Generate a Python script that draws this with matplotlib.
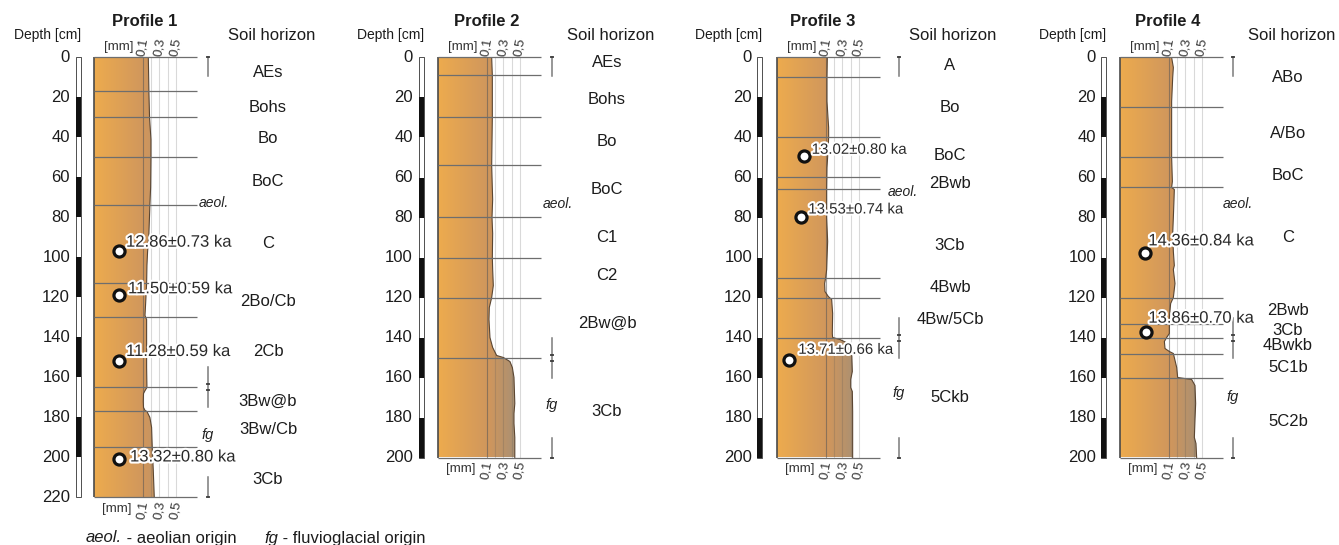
import matplotlib.pyplot as plt
import matplotlib.transforms as mtransforms
import matplotlib.patheffects as pe
from matplotlib.colors import LinearSegmentedColormap
from matplotlib.patches import Polygon, Rectangle
import numpy as np

plt.rcParams['font.family'] = ['Liberation Sans', 'DejaVu Sans']

# grain size scale [mm]
grid_mm = [0.1, 0.2, 0.3, 0.4, 0.5]
grid_lab_mm = [0.1, 0.3, 0.5]
grid_lab = ['0,1', '0,3', '0,5']
depth_ticks = [0, 20, 40, 60, 80, 100, 120, 140, 160, 180, 200, 220]

titles = ['Profile 1', 'Profile 2', 'Profile 3', 'Profile 4']
max_depth = [220, 200, 200, 200]
# depth of the aeolian / fluvioglacial contact
origin_split = [165, 150, 140, 140]

# Profile 1
p1_depth = [0, 17, 30, 41, 50, 65, 74, 88, 97, 104, 113, 123, 129, 131, 140, 155, 165,
            166.5, 168, 172, 175, 176.5, 177, 180, 185, 195, 206, 220]
p1_grain = [0.165, 0.172, 0.18, 0.197, 0.197, 0.193, 0.184, 0.172, 0.156, 0.148, 0.144,
            0.132, 0.124, 0.144, 0.144, 0.144, 0.148, 0.125, 0.106, 0.103, 0.106, 0.125,
            0.148, 0.184, 0.205, 0.213, 0.225, 0.238]
p1_bounds = [17, 30, 50, 74, 113, 130, 165, 177, 195]
p1_horizons = ['AEs', 'Bohs', 'Bo', 'BoC', 'C', '2Bo/Cb', '2Cb', '3Bw@b', '3Bw/Cb', '3Cb']
p1_hz_depth = [7.5, 25, 40.5, 62, 93, 122, 147, 172, 186, 211]
p1_ages = ['12.86±0.73 ka', '11.50±0.59 ka', '11.28±0.59 ka', '13.32±0.80 ka']
p1_age_depth = [97, 119, 152, 201]
p1_age_x = [-0.194, -0.194, -0.194, -0.194]

# Profile 2
p2_depth = [0, 9, 30, 54, 71, 80, 88, 100, 106, 114, 120, 125, 131, 140, 145, 149, 150,
            152, 155, 160, 173, 178, 183, 190, 200]
p2_grain = [0.157, 0.165, 0.165, 0.157, 0.169, 0.161, 0.169, 0.165, 0.169, 0.177, 0.157,
            0.128, 0.124, 0.136, 0.169, 0.218, 0.30, 0.38, 0.41, 0.43, 0.44, 0.43, 0.43,
            0.44, 0.44]
p2_bounds = [9, 30, 54, 80, 100, 120, 150]
p2_horizons = ['AEs', 'Bohs', 'Bo', 'BoC', 'C1', 'C2', '2Bw@b', '3Cb']
p2_hz_depth = [2.5, 21, 42, 66, 90, 109, 133, 177]
p2_ages = []
p2_age_depth = []
p2_age_x = []

# Profile 3
p3_depth = [0, 10, 22, 30, 35, 40, 47, 55, 66, 80, 92, 101, 106, 110, 113, 117, 119.5,
            121, 128, 138, 140, 141, 143, 147, 157, 161, 165, 167, 177, 190, 200]
p3_grain = [0.116, 0.112, 0.112, 0.124, 0.132, 0.132, 0.124, 0.112, 0.108, 0.108, 0.120,
            0.112, 0.108, 0.096, 0.083, 0.087, 0.128, 0.169, 0.181, 0.177, 0.181, 0.271,
            0.373, 0.414, 0.422, 0.402, 0.402, 0.422, 0.426, 0.426, 0.426]
p3_bounds = [10, 40, 60, 66, 110, 120, 140]
p3_horizons = ['A', 'Bo', 'BoC', '2Bwb', '3Cb', '4Bwb', '4Bw/5Cb', '5Ckb']
p3_hz_depth = [4, 25, 49, 63, 94, 115, 131, 170]
p3_ages = ['13.02±0.80 ka', '13.53±0.74 ka', '13.71±0.66 ka']
p3_age_depth = [49.5, 80, 151]
p3_age_x = [-0.17, -0.21, -0.35]

# Profile 4
p4_depth = [0, 5, 10, 22, 38, 50, 62, 65, 66, 71, 80, 88, 97, 104, 106, 113, 120, 123,
            130, 134, 138, 140, 142, 145.5, 147, 148, 155, 160, 161, 164, 173, 181, 190,
            193, 200]
p4_grain = [0.132, 0.153, 0.145, 0.132, 0.132, 0.132, 0.141, 0.132, 0.165, 0.161, 0.153,
            0.145, 0.153, 0.165, 0.153, 0.173, 0.153, 0.120, 0.104, 0.104, 0.104, 0.071,
            0.043, 0.051, 0.104, 0.153, 0.194, 0.206, 0.377, 0.418, 0.426, 0.418, 0.410,
            0.430, 0.438]
p4_bounds = [25, 50, 65, 120, 133, 140, 148, 160]
p4_horizons = ['ABo', 'A/Bo', 'BoC', 'C', '2Bwb', '3Cb', '4Bwkb', '5C1b', '5C2b']
p4_hz_depth = [10, 38, 59, 90, 126.5, 136.5, 144, 155, 182]
p4_ages = ['14.36±0.84 ka', '13.86±0.70 ka']
p4_age_depth = [97.5, 137]
p4_age_x = [-0.194, -0.185]

# ---- layout (pixels) ----
W, H = 1339, 545
TOP = 57.5
PX_CM = 2.0
PX_MM = 81.7
X0 = -0.5
COL_W = 103
col_left = [94, 438, 777, 1120]
bar_x = [76, 419, 757, 1101]
num_x = [70, 413, 752, 1096]
title_x = [144.5, 486.7, 822.5, 1168]
soil_x = [272, 611, 953, 1292]
hz_x = [268, 607, 950, 1288]
mark_x = [208, 552, 899, 1233]
aeol_x = [199, 543, 888, 1223]
aeol_y = [73, 73.5, 67, 73.5]
fg_y = [189, 174, 167.5, 169.5]
age_fs = [12, 12, 10.8, 12]
age_off = [[(7, -9.3), (9, -6.7), (7, -10), (11, -2.5)],
           [],
           [(7.7, -6.7), (7.6, -8), (9, -9.7)],
           [(3.3, -11.6), (2.6, -13.3)]]

fig = plt.figure(figsize=(W / 100, H / 100), dpi=100)
ov = fig.add_axes([0, 0, 1, 1])
ov.set_xlim(0, W)
ov.set_ylim(H, 0)
ov.axis('off')

cmap = LinearSegmentedColormap.from_list(
    'sand', [(0, '#EDAB4E'), (0.5, '#CF965D'), (0.74, '#AB9072'), (1, '#9A8C7E')])
halo = [pe.withStroke(linewidth=3, foreground='white')]
ink = '#1c1c1c'

profiles = [
    (p1_depth, p1_grain, p1_bounds, p1_horizons, p1_hz_depth, p1_ages, p1_age_depth, p1_age_x),
    (p2_depth, p2_grain, p2_bounds, p2_horizons, p2_hz_depth, p2_ages, p2_age_depth, p2_age_x),
    (p3_depth, p3_grain, p3_bounds, p3_horizons, p3_hz_depth, p3_ages, p3_age_depth, p3_age_x),
    (p4_depth, p4_grain, p4_bounds, p4_horizons, p4_hz_depth, p4_ages, p4_age_depth, p4_age_x),
]

for i, (depth, grain, bounds, names, hz_d, ages, age_d, age_x) in enumerate(profiles):
    md = max_depth[i]
    h = md * PX_CM
    x1 = X0 + COL_W / PX_MM
    ax = fig.add_axes([col_left[i] / W, 1 - (TOP + h) / H, COL_W / W, h / H])
    ax.axis('off')
    blend = mtransforms.blended_transform_factory(ov.transData, ax.transData)

    # sediment column: gradient clipped by the grain size curve
    xs = [X0] + grain + [X0]
    ys = [depth[0]] + depth + [depth[-1]]
    poly = Polygon(np.column_stack([xs, ys]), closed=True, fc='none', ec='none')
    ax.add_patch(poly)
    im = ax.imshow(np.linspace(0, 1, 256)[None, :], cmap=cmap, aspect='auto',
                   extent=[X0, x1, md, 0], interpolation='bilinear', zorder=1)
    im.set_clip_path(poly)
    ax.plot(grain, depth, color='#5b4632', lw=0.8, zorder=3)
    ax.vlines(X0, 0, md, color='#4a4a4a', lw=1.2, zorder=3, clip_on=False)
    for g in grid_mm:
        ax.vlines(g, 0, md, color='#555555', alpha=0.55 if g == 0.1 else 0.22,
                  lw=0.8, zorder=2)
    ax.hlines([0] + bounds + [md], X0, x1, color='#6e6e6e', lw=0.9, zorder=4,
              clip_on=False)
    ax.set_xlim(X0, x1)
    ax.set_ylim(md, 0)

    # grain size labels above and below
    for g, lab in zip(grid_lab_mm, grid_lab):
        ax.annotate(lab, (g, 0), xytext=(0, 7.6), textcoords='offset points',
                    rotation=80, ha='center', va='center', fontsize=9.5, color='#333')
        ax.annotate(lab, (g, md), xytext=(0, -8.8), textcoords='offset points',
                    rotation=80, ha='center', va='center', fontsize=9.5, color='#333')
    ax.annotate('[mm]', (0.1, 0), xytext=(-6.5, 7.2), textcoords='offset points',
                ha='right', va='center', fontsize=9.5, color='#333')
    ax.annotate('[mm]', (0.1, md), xytext=(-8.6, -8.6), textcoords='offset points',
                ha='right', va='center', fontsize=9.5, color='#333')

    # depth scale bar
    ax.add_patch(Rectangle((bar_x[i], 0), 5, md, transform=blend, fc='white',
                           ec='#333', lw=0.6, clip_on=False))
    ticks = [d for d in depth_ticks if d <= md]
    for a, b in zip(ticks[1::2], ticks[2::2]):
        ax.add_patch(Rectangle((bar_x[i], a), 5, b - a, transform=blend,
                               fc='#111', ec='none', clip_on=False))
    for d in ticks:
        ax.text(num_x[i], d, str(d), transform=blend, ha='right', va='center',
                fontsize=12, color=ink)

    # horizon names
    for name, d in zip(names, hz_d):
        ax.text(hz_x[i], d, name, transform=blend, ha='center', va='center',
                fontsize=12, color=ink)

    # aeolian / fluvioglacial brackets
    s = origin_split[i]
    mx = mark_x[i]
    for a, b in [(0, 9.5), (s - 10, s + 10), (md - 10, md)]:
        ax.plot([mx, mx], [a, b], transform=blend, color='#7a7a7a', lw=1.1,
                clip_on=False)
    ax.plot([mx] * 4, [0, s - 1.5, s + 1.5, md], transform=blend, ls='none',
            marker='_', ms=3.5, mew=1.2, color='#333', clip_on=False)
    ax.text(aeol_x[i], aeol_y[i], 'aeol.', transform=blend, style='italic',
            ha='left', va='center', fontsize=10, color='#222')
    ax.text(mx, fg_y[i], 'fg', transform=blend, style='italic',
            ha='center', va='center', fontsize=10.5, color='#222')

    # luminescence ages
    ax.plot(age_x, age_d, ls='none', marker='o', mfc='white', mec='#111',
            ms=8, mew=2.3, zorder=6)
    for k, (lab, x, d) in enumerate(zip(ages, age_x, age_d)):
        dx, dy = age_off[i][k]
        ax.annotate(lab, (x, d), xytext=(dx * 0.72, -dy * 0.72),
                    textcoords='offset points', ha='left', va='center',
                    fontsize=age_fs[i], color='#2a2a2a', path_effects=halo, zorder=7)

    # headers
    ov.text(title_x[i], 22, titles[i], ha='center', va='center', fontsize=12,
            fontweight='bold', color=ink)
    ov.text(bar_x[i] + 5, 35, 'Depth [cm]', ha='right', va='center', fontsize=10,
            color=ink)
    ov.text(soil_x[i], 35, 'Soil horizon', ha='center', va='center', fontsize=12,
            color=ink)

# legend line at the bottom
t1 = ov.text(86, 538, 'aeol.', style='italic', ha='left', va='center', fontsize=12,
             color=ink)
ov.annotate(' - aeolian origin', xy=(1, 0.5), xycoords=t1, ha='left', va='center',
            fontsize=12, color=ink)
t2 = ov.text(264, 538, 'fg', style='italic', ha='left', va='center', fontsize=12,
             color=ink)
ov.annotate(' - fluvioglacial origin', xy=(1, 0.5), xycoords=t2, ha='left',
            va='center', fontsize=12, color=ink)

fig.savefig('out.png', dpi=100)
